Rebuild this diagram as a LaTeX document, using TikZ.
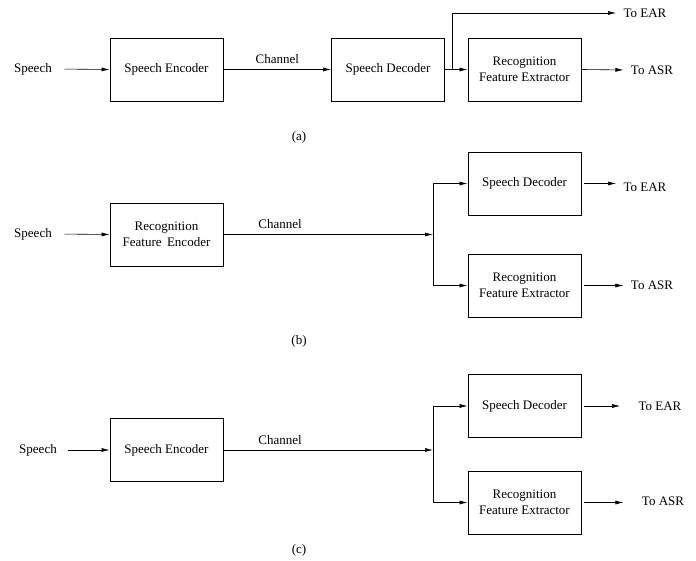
\documentclass[tikz,border=0pt]{standalone}
\usepackage{fontspec}
\setmainfont{Liberation Serif}
\usetikzlibrary{arrows.meta}
\begin{document}
\begin{tikzpicture}[x=1pt,y=-1pt,
  every node/.style={font=\fontsize{13}{15.5}\selectfont},
  box/.style={draw, line width=0.9pt, minimum width=113pt, minimum height=63pt, align=center, inner sep=2pt},
  arr/.style={-{Latex[length=8pt,width=4pt]}, line width=0.6pt},
  ln/.style={line width=0.6pt}]
\useasboundingbox (0,0) rectangle (696,561);
% (a)
\node (spA) at (33,69) {Speech};
\node[box] (encA) at (166.5,69.5) {Speech Encoder};
\node[box] (decA) at (388,69.5) {Speech Decoder};
\node[box] (rfeA) at (524.5,69.5) {Recognition\\Feature Extractor};
\node (earA) at (645,13) {To EAR};
\node (asrA) at (652,70) {To ASR};
\node (capA) at (299,137) {(a)};
\coordinate (brA) at (452,69.5);
\draw[arr, shorten <=9pt] (spA.east) -- (encA.west);
\draw[arr] (encA.east) -- node[above=2pt] {Channel} (decA.west);
\draw[arr] (decA.east) -- (rfeA.west);
\draw[arr, shorten >=4pt] (brA) |- (earA.west);
\draw[arr, shorten >=4pt] (rfeA.east) -- (asrA.west);
% (b)
\node (spB) at (33,234) {Speech};
\node[box] (encB) at (166.5,234.5) {Recognition\\Feature\, Encoder};
\node[box] (decB) at (524.5,183.5) {Speech Decoder};
\node[box] (rfeB) at (524.5,285.5) {Recognition\\Feature Extractor};
\node (earB) at (645,187) {To EAR};
\node (asrB) at (652,285) {To ASR};
\node (capB) at (299,341) {(b)};
\coordinate (brB) at (433,234.5);
\draw[arr, shorten <=9pt] (spB.east) -- (encB.west);
\draw[arr] (encB.east) -- node[above=2pt, pos=0.27] {Channel} (brB);
\draw[arr] (brB) |- (decB.west);
\draw[arr] (brB) |- (rfeB.west);
\draw[arr, shorten <=3pt, shorten >=4pt] (decB.east) -- (decB.east -| earB.west);
\draw[arr, shorten <=3pt, shorten >=4pt] (rfeB.east) -- (rfeB.east -| asrB.west);
% (c)
\node (spC) at (38,450) {Speech};
\node[box] (encC) at (166.5,450) {Speech Encoder};
\node[box] (decC) at (524.5,406) {Speech Decoder};
\node[box] (rfeC) at (524.5,502.5) {Recognition\\Feature Extractor};
\node (earC) at (660,406) {To EAR};
\node (asrC) at (663,501) {To ASR};
\node (capC) at (299,550) {(c)};
\coordinate (brC) at (433,450);
\draw[arr, shorten <=8pt] (spC.east) -- (encC.west);
\draw[arr] (encC.east) -- node[above=2pt, pos=0.27] {Channel} (brC);
\draw[arr] (brC) |- (decC.west);
\draw[arr] (brC) |- (rfeC.west);
\draw[arr, shorten <=3pt, shorten >=15pt] (decC.east) -- (decC.east -| earC.west);
\draw[arr, shorten <=3pt, shorten >=15pt] (rfeC.east) -- (rfeC.east -| asrC.west);
\end{tikzpicture}
\end{document}
